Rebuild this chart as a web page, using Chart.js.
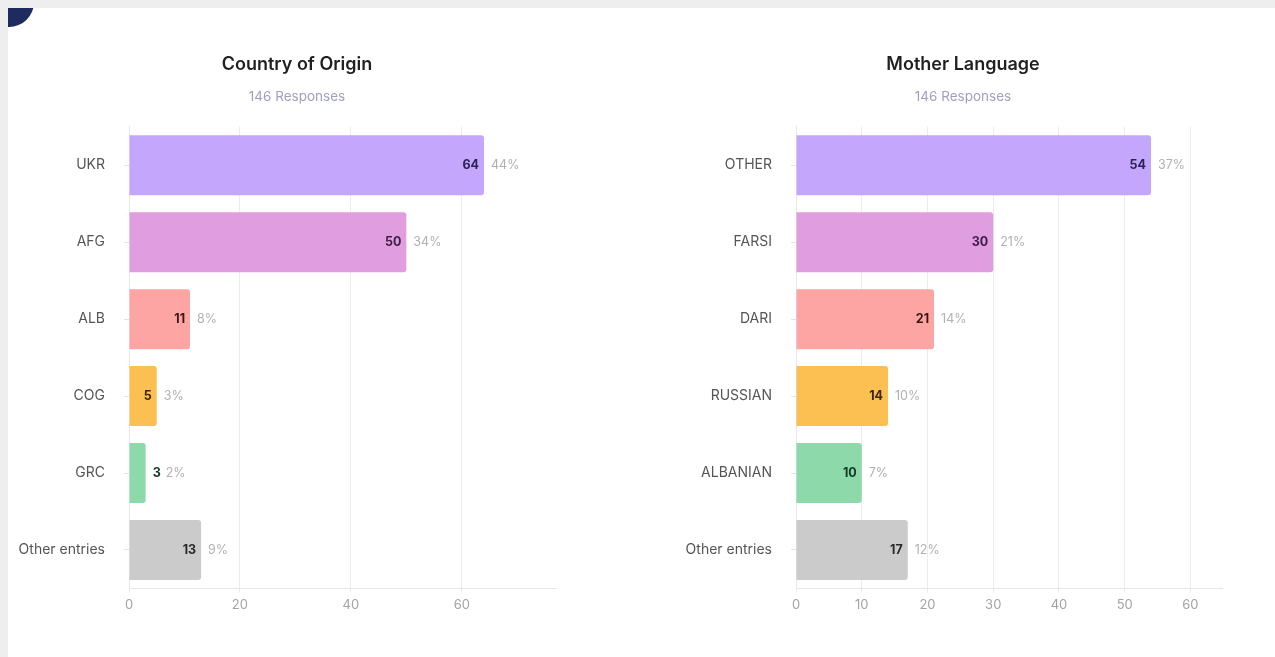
<!DOCTYPE html>
<html>
<head>
<meta charset="utf-8">
<script src="https://cdn.jsdelivr.net/npm/chart.js@4.4.1/dist/chart.umd.min.js"></script>
<style>
  html, body { margin: 0; padding: 0; background: #eeeeee; }
  body { width: 1275px; height: 657px; position: relative; overflow: hidden; font-family: Inter, sans-serif; }
  .card { position: absolute; left: 8px; top: 8px; right: 0; bottom: 0; background: #fff; overflow: hidden; }
  .dot { position: absolute; left: -24px; top: -31px; width: 50px; height: 50px; border-radius: 50%; background: #1f2b5e; }
  .box { position: absolute; top: 22px; width: 574px; height: 593px; }
  #left { left: 2px; }
  #right { left: 668px; }
</style>
</head>
<body>
<div class="card">
  <div class="dot"></div>
  <div class="box" id="left"><canvas id="chartLeft"></canvas></div>
  <div class="box" id="right"><canvas id="chartRight"></canvas></div>
</div>
<script>
// datos
const totalResponses = 146;

const countryLabels = ['UKR', 'AFG', 'ALB', 'COG', 'GRC', 'Other entries'];
const countryValues = [64, 50, 11, 5, 3, 13];
const countryPercents = ['44%', '34%', '8%', '3%', '2%', '9%'];
const countryTicks = [0, 20, 40, 60];

const languageLabels = ['OTHER', 'FARSI', 'DARI', 'RUSSIAN', 'ALBANIAN', 'Other entries'];
const languageValues = [54, 30, 21, 14, 10, 17];
const languagePercents = ['37%', '21%', '14%', '10%', '7%', '12%'];
const languageTicks = [0, 10, 20, 30, 40, 50, 60];

const barColors = ['#c4a6fc', '#e09ee0', '#fca5a3', '#fcbf52', '#8dd9aa', '#cbcbcb'];
const valueColors = ['#2b2356', '#3d1d44', '#3a1616', '#3b2800', '#103a24', '#2a2a2a'];

// Plugin para dibujar el valor y el porcentaje al final de cada barra
const barLabelsPlugin = {
  id: 'barLabels',
  afterDatasetsDraw(chart, args, opts) {
    const ctx = chart.ctx;
    const meta = chart.getDatasetMeta(0);
    const values = chart.data.datasets[0].data;
    ctx.save();
    ctx.textBaseline = 'middle';
    meta.data.forEach((bar, i) => {
      const txt = String(values[i]);
      ctx.font = '700 12.5px Inter, sans-serif';
      const w = ctx.measureText(txt).width;
      const barWidth = bar.x - bar.base;
      let endX;
      ctx.fillStyle = valueColors[i];
      if (barWidth >= w + 16) {
        ctx.textAlign = 'right';
        ctx.fillText(txt, bar.x - 5, bar.y);
        endX = bar.x;
      } else {
        ctx.textAlign = 'left';
        ctx.fillText(txt, bar.x + 7, bar.y);
        endX = bar.x + 7 + w - 2;
      }
      ctx.font = '400 12.5px Inter, sans-serif';
      ctx.fillStyle = '#b0b0b6';
      ctx.textAlign = 'left';
      ctx.fillText(opts.percents[i], endX + 7, bar.y);
    });
    ctx.restore();
  }
};

// Ampliar la zona de etiquetas del eje Y hasta el borde del lienzo (evita que se recorten)
const widenAxisPlugin = {
  id: 'widenAxis',
  afterLayout(chart) {
    chart.scales.y.left = 0;
  }
};

function makeChart(canvasId, title, labels, values, percents, tickValues, xMax, sidePad, axisWidth) {
  const ctx = document.getElementById(canvasId).getContext('2d');
  return new Chart(ctx, {
    type: 'bar',
    data: {
      labels: labels,
      datasets: [{
        data: values,
        backgroundColor: barColors,
        borderRadius: 3,
        borderSkipped: 'start',
        categoryPercentage: 1,
        barPercentage: 0.78,
      }],
    },
    options: {
      indexAxis: 'y',
      responsive: true,
      maintainAspectRatio: false,
      animation: false,
      layout: { padding: { left: sidePad, right: sidePad, top: 0, bottom: 5 } },
      scales: {
        x: {
          min: 0,
          max: xMax,
          ticks: { color: '#a3a3a8', padding: 5, font: { family: 'Inter', size: 13 } },
          grid: { color: '#ebebf0', tickLength: 4, drawTicks: true },
          border: { display: true, color: '#e6e6ec' },
          afterBuildTicks(scale) {
            scale.ticks = tickValues.map(v => ({ value: v }));
          },
        },
        y: {
          ticks: { color: '#555558', padding: 19, font: { family: 'Inter', size: 14 } },
          grid: { display: true, offset: false, drawOnChartArea: false, tickLength: 5, color: '#e3e3ea' },
          border: { display: true, color: '#e6e6ec' },
          afterFit(scale) { scale.width = axisWidth; },
        },
      },
      plugins: {
        legend: { display: false },
        tooltip: { enabled: false },
        title: {
          display: true,
          text: title,
          color: '#1f1f24',
          font: { family: 'Inter', size: 18, weight: '600' },
          padding: { top: 24, bottom: 13 },
        },
        subtitle: {
          display: true,
          text: totalResponses + ' Responses',
          color: '#a09fc0',
          font: { family: 'Inter', size: 13.5, weight: '400' },
          padding: { top: 0, bottom: 22 },
        },
        barLabels: { percents: percents },
      },
    },
    plugins: [barLabelsPlugin, widenAxisPlugin],
  });
}

makeChart('chartLeft', 'Country of Origin', countryLabels, countryValues, countryPercents, countryTicks, 76.8, 29, 90);
makeChart('chartRight', 'Mother Language', languageLabels, languageValues, languagePercents, languageTicks, 64.8, 28, 92);
</script>
</body>
</html>
